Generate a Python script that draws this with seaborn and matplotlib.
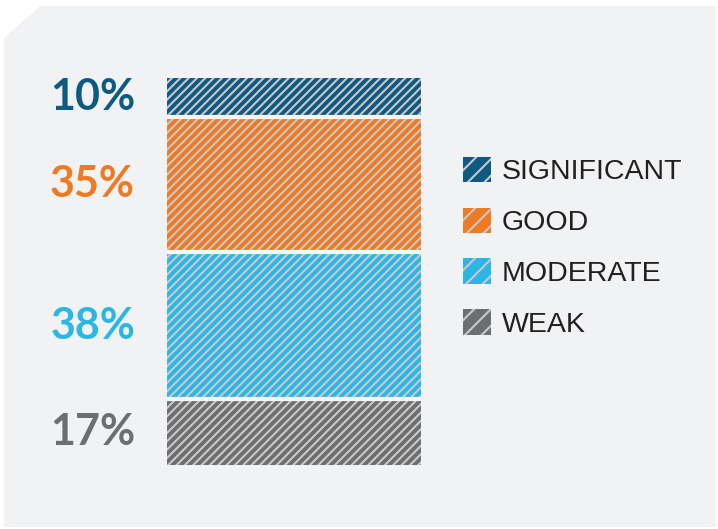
import numpy as np
import pandas as pd
import matplotlib
matplotlib.use("Agg")
import matplotlib.pyplot as plt
import seaborn as sns
from matplotlib.patches import Polygon, Patch
import matplotlib.transforms as mtransforms

categories = ["SIGNIFICANT", "GOOD", "MODERATE", "WEAK"]
shares = [10, 35, 38, 17]
labels = ["10%", "35%", "38%", "17%"]
colors = ["#0e5a82", "#ee7a24", "#2bb7e6", "#6d6e70"]

BG = "#f1f2f4"
HATCH = "#c9c9c9"

sns.set_theme(style="white")
plt.rcParams["hatch.linewidth"] = 1.5

W, H = 718, 529
fig = plt.figure(figsize=(W / 100, H / 100), dpi=100, facecolor="white")

# panel with cut top-left corner (pixel coords -> figure fraction)
pts = [(4, 527), (4, 38), (40, 6), (716, 6), (716, 527)]
fig.patches.append(Polygon([(x / W, 1 - y / H) for x, y in pts], closed=True,
                           transform=fig.transFigure, facecolor=BG,
                           edgecolor="none", zorder=-5))

ax = fig.add_axes([167 / W, (H - 465) / H, 254 / W, 387 / H])
ax.patch.set_alpha(0)

# stack: draw cumulative bars from the tallest one (WEAK sits at the bottom)
df = pd.DataFrame({"cat": categories, "share": shares, "color": colors})
df["top"] = df["share"][::-1].cumsum()[::-1]
df["bottom"] = df["top"] - df["share"]

for _, row in df.sort_values("top", ascending=False).iterrows():
    sns.barplot(x=["bar"], y=[row["top"]], color=row["color"], width=1.0,
                ax=ax, edgecolor=HATCH, linewidth=0, hatch="////",
                saturation=1)

# gaps between segments
for b in df["bottom"]:
    if b > 0:
        ax.axhline(b, color="#f5f6f7", linewidth=3)

ax.set_xlim(-0.5, 0.5)
ax.set_ylim(0, 100)
ax.axis("off")

# percentage labels left of the bar
trans = mtransforms.blended_transform_factory(ax.transAxes, ax.transData)
for _, row in df.iterrows():
    lab = labels[categories.index(row["cat"])]
    ax.annotate(lab, xy=(0, (row["top"] + row["bottom"]) / 2), xycoords=trans,
                xytext=(-32, 0), textcoords="offset pixels",
                ha="right", va="center", fontsize=31, fontweight="bold",
                family="Lato", color=row["color"], annotation_clip=False)

handles = [Patch(facecolor=c, edgecolor=HATCH, linewidth=0, hatch="//", label=n)
           for c, n in zip(colors, categories)]
leg = fig.legend(handles=handles, loc="upper left",
                 bbox_to_anchor=(463 / W, 1 - 157 / H), frameon=False,
                 prop={"family": "Liberation Sans", "size": 20.5},
                 handlelength=1.0, handleheight=1.0, handletextpad=0.36,
                 labelspacing=0.78, borderpad=0, borderaxespad=0)
for t in leg.get_texts():
    t.set_color("#231f20")

fig.savefig("out.png", dpi=100, facecolor="white")
